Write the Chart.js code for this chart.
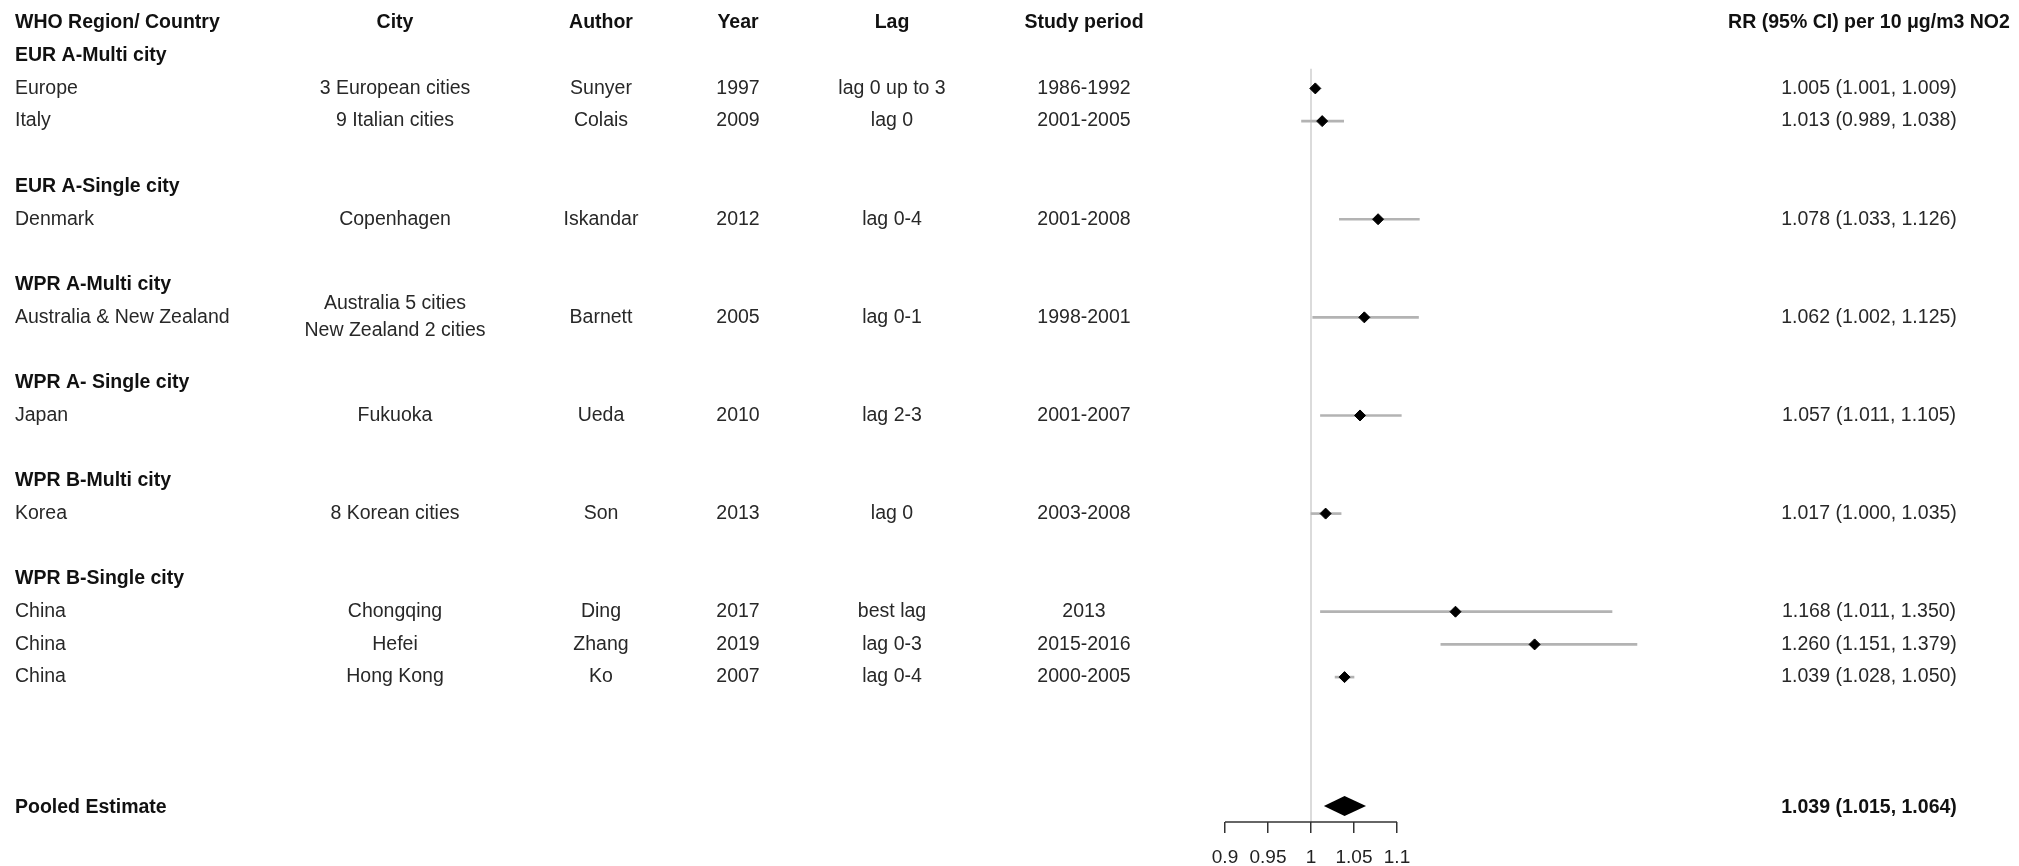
<!DOCTYPE html>
<html>
<head>
<meta charset="utf-8">
<style>
  body { margin: 0; background: #fff; }
  #wrap { width: 2019px; height: 866px; }
</style>
</head>
<body>
<div id="wrap"><canvas id="forest" width="2019" height="866"></canvas></div>

<script src="https://cdn.jsdelivr.net/npm/chart.js"></script>

<script>
  // column headers
  const headers = ['WHO Region/ Country', 'City', 'Author', 'Year', 'Lag', 'Study period', 'RR (95% CI) per 10 μg/m3 NO2'];

  // region groups and how many studies sit under each one
  const groups = ['EUR A-Multi city', 'EUR A-Single city', 'WPR A-Multi city', 'WPR A- Single city', 'WPR B-Multi city', 'WPR B-Single city'];
  const groupSizes = [2, 1, 1, 1, 1, 3];

  // one entry per study
  const regions = ['Europe', 'Italy', 'Denmark', 'Australia & New Zealand', 'Japan', 'Korea', 'China', 'China', 'China'];
  const cities = ['3 European cities', '9 Italian cities', 'Copenhagen', ['Australia 5 cities', 'New Zealand 2 cities'], 'Fukuoka', '8 Korean cities', 'Chongqing', 'Hefei', 'Hong Kong'];
  const authors = ['Sunyer', 'Colais', 'Iskandar', 'Barnett', 'Ueda', 'Son', 'Ding', 'Zhang', 'Ko'];
  const years = ['1997', '2009', '2012', '2005', '2010', '2013', '2017', '2019', '2007'];
  const lags = ['lag 0 up to 3', 'lag 0', 'lag 0-4', 'lag 0-1', 'lag 2-3', 'lag 0', 'best lag', 'lag 0-3', 'lag 0-4'];
  const periods = ['1986-1992', '2001-2005', '2001-2008', '1998-2001', '2001-2007', '2003-2008', '2013', '2015-2016', '2000-2005'];
  const rr    = [1.005, 1.013, 1.078, 1.062, 1.057, 1.017, 1.168, 1.260, 1.039];
  const lower = [1.001, 0.989, 1.033, 1.002, 1.011, 1.000, 1.011, 1.151, 1.028];
  const upper = [1.009, 1.038, 1.126, 1.125, 1.105, 1.035, 1.350, 1.379, 1.050];

  // pooled estimate
  const pooledLabel = 'Pooled Estimate';
  const pooledRR = 1.039;
  const pooledLower = 1.015;
  const pooledUpper = 1.064;

  // x axis ticks
  const tickValues = [0.9, 0.95, 1, 1.05, 1.1];
  const tickLabels = ['0.9', '0.95', '1', '1.05', '1.1'];

  // work out the table rows: header, then each group label, its studies and a gap
  const groupRows = [];
  const studyRows = [];
  let row = 1;
  groupSizes.forEach(n => {
    groupRows.push(row++);
    for (let k = 0; k < n; k++) studyRows.push(row++);
    row++;
  });
  const pooledRow = row + 2;
  const bottomRow = pooledRow + 0.43;

  const fmt = (v, lo, hi) => v.toFixed(3) + ' (' + lo.toFixed(3) + ', ' + hi.toFixed(3) + ')';

  const FONT = '"Liberation Sans", Arial, sans-serif';
  const colX = [15, 395, 601, 738, 892, 1084, 1869];

  const tablePlugin = {
    id: 'studyTable',
    afterDraw(chart) {
      const ctx = chart.ctx;
      const ys = chart.scales.y;
      const put = (txt, col, r, bold, dy) => {
        ctx.font = (bold ? 'bold ' : '') + '19.5px ' + FONT;
        ctx.fillStyle = bold ? '#111' : '#282828';
        ctx.textAlign = col === 0 ? 'left' : 'center';
        ctx.fillText(txt, colX[col], ys.getPixelForValue(r) + (dy || 0));
      };
      ctx.save();
      ctx.textBaseline = 'middle';
      headers.forEach((h, i) => put(h, i, 0, true));
      groups.forEach((g, i) => put(g, 0, groupRows[i], true));
      studyRows.forEach((r, i) => {
        put(regions[i], 0, r);
        if (Array.isArray(cities[i])) {
          put(cities[i][0], 1, r, false, -13.7);
          put(cities[i][1], 1, r, false, 13.7);
        } else {
          put(cities[i], 1, r);
        }
        put(authors[i], 2, r);
        put(years[i], 3, r);
        put(lags[i], 4, r);
        put(periods[i], 5, r);
        put(fmt(rr[i], lower[i], upper[i]), 6, r);
      });
      put(pooledLabel, 0, pooledRow, true);
      put(fmt(pooledRR, pooledLower, pooledUpper), 6, pooledRow, true);
      ctx.restore();
    }
  };

  // summary diamond for the pooled estimate
  const pooledPlugin = {
    id: 'pooledDiamond',
    afterDatasetsDraw(chart) {
      const ctx = chart.ctx;
      const xs = chart.scales.x, ys = chart.scales.y;
      const cy = ys.getPixelForValue(pooledRow) - 2;
      const h = 10;
      ctx.save();
      ctx.fillStyle = '#000';
      ctx.beginPath();
      ctx.moveTo(xs.getPixelForValue(pooledLower), cy);
      ctx.lineTo(xs.getPixelForValue(pooledRR), cy - h);
      ctx.lineTo(xs.getPixelForValue(pooledUpper), cy);
      ctx.lineTo(xs.getPixelForValue(pooledRR), cy + h);
      ctx.closePath();
      ctx.fill();
      ctx.restore();
    }
  };

  const data = {
    datasets: [
      {
        // line of no effect
        type: 'line',
        data: [{x: 1, y: 1.4}, {x: 1, y: bottomRow}],
        borderColor: '#cfcfcf',
        borderWidth: 1.5,
        pointRadius: 0,
        clip: false,
        order: 4
      },
      {
        type: 'bar',
        indexAxis: 'y',
        data: studyRows.map((r, i) => ({y: r, x: [lower[i], upper[i]]})),
        backgroundColor: '#b3b3b3',
        borderWidth: 0,
        barThickness: 2,
        clip: false,
        order: 3
      },
      {
        // axis base line, only across the ticked range
        type: 'line',
        data: [{x: tickValues[0], y: bottomRow}, {x: tickValues[tickValues.length - 1], y: bottomRow}],
        borderColor: '#333',
        borderWidth: 1.5,
        pointRadius: 0,
        clip: false,
        order: 2
      },
      {
        type: 'scatter',
        data: studyRows.map((r, i) => ({x: rr[i], y: r})),
        pointStyle: 'rectRot',
        pointRadius: 5.5,
        backgroundColor: '#000',
        borderColor: '#000',
        borderWidth: 1,
        order: 1
      }
    ]
  };

  const config = {
    type: 'scatter',
    data: data,
    options: {
      responsive: false,
      animation: false,
      devicePixelRatio: 1,
      layout: { padding: { left: 1225, right: 364, top: 23, bottom: 0 } },
      plugins: { legend: { display: false }, tooltip: { enabled: false } },
      scales: {
        x: {
          type: 'linear',
          min: 0.9,
          max: 1.4,
          afterBuildTicks: s => { s.ticks = tickValues.map(v => ({value: v})); },
          afterFit: s => { s.height = 44; },
          border: { display: false },
          grid: { drawOnChartArea: false, drawTicks: true, tickLength: 11, color: '#333', lineWidth: 1.5 },
          ticks: {
            autoSkip: false,
            maxRotation: 0,
            padding: 13,
            color: '#222',
            font: { family: FONT, size: 19 },
            callback: (v, i) => tickLabels[i]
          }
        },
        y: {
          type: 'linear',
          min: 0,
          max: bottomRow,
          reverse: true,
          offset: false,
          display: false
        }
      }
    },
    plugins: [pooledPlugin, tablePlugin]
  };

  const myChart = new Chart(document.getElementById('forest'), config);
</script>
</body>
</html>
